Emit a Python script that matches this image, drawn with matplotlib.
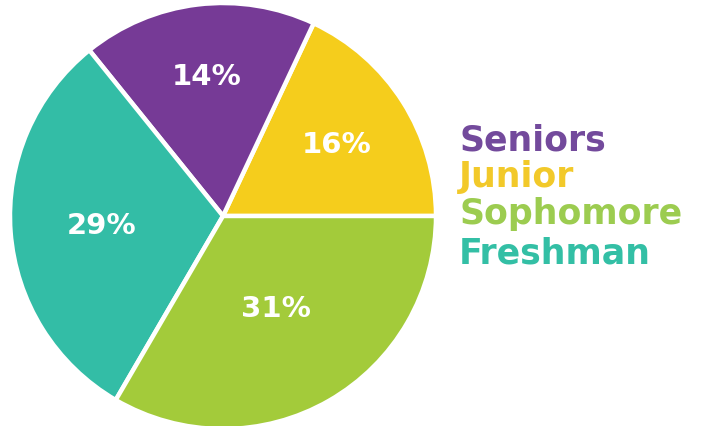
import matplotlib
matplotlib.use("Agg")
import matplotlib.pyplot as plt
import numpy as np

# slice order, counter-clockwise from 3 o'clock
categories = ["Junior", "Seniors", "Freshman", "Sophomore"]
shares = [18.0, 17.8, 30.8, 33.4]  # measured slice sizes
slice_labels = ["16%", "14%", "29%", "31%"]
colors = ["#f5cd1c", "#763a96", "#33bda6", "#a3cb3a"]

legend_names = ["Seniors", "Junior", "Sophomore", "Freshman"]
legend_colors = ["#734a9c", "#f2c92a", "#9ccc50", "#33bfa5"]

W, H = 708, 427
fig = plt.figure(figsize=(W / 100, H / 100), dpi=100)
fig.patch.set_facecolor("white")

cx, cy, r = 223, 217, 213
ax = fig.add_axes([(cx - r) / W, (H - cy - r) / H, 2 * r / W, 2 * r / H])
wedges, _ = ax.pie(shares, colors=colors, startangle=0, counterclock=True,
                   radius=1.0,
                   wedgeprops=dict(edgecolor="white", linewidth=3.2))
ax.set_xlim(-1, 1)
ax.set_ylim(-1, 1)
ax.set_aspect("equal")
ax.axis("off")

label_dist = [0.63, 0.66, 0.57, 0.50]
for w, lab, d in zip(wedges, slice_labels, label_dist):
    ang = np.deg2rad((w.theta1 + w.theta2) / 2)
    ax.text(d * np.cos(ang), d * np.sin(ang), lab, ha="center", va="center",
            color="white", fontsize=21, fontweight="heavy")

baselines = [151, 187, 224, 263]
for name, col, yb in zip(legend_names, legend_colors, baselines):
    fig.text(459 / W, 1 - yb / H, name, ha="left", va="baseline",
             color=col, fontsize=25, fontweight="heavy")

fig.savefig("out.png", dpi=100)
